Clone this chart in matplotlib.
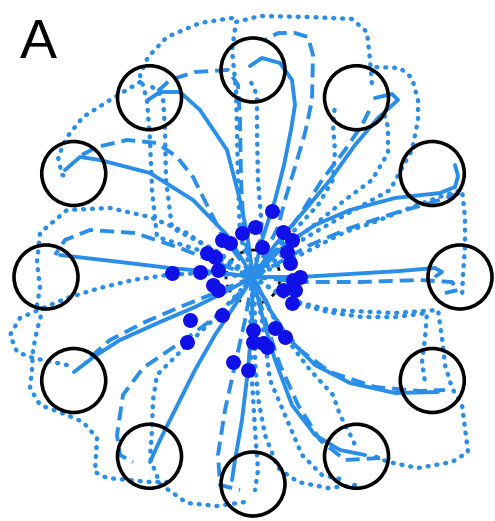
import numpy as np
import matplotlib
matplotlib.use("Agg")
import matplotlib.pyplot as plt
from matplotlib.patches import Circle

# workspace coordinates (screen units, y grows downward)
center = (253, 277)
target_angles = [90, 60, 30, 0, -30, -60, -90, -120, -150, 180, 150, 120]
target_dist = 207
target_r = 32
start_r = 27

# solid trajectories
solid_paths = [
    [(253, 277), (262, 240), (275, 200), (284, 165), (291, 130), (295, 105), (292, 80), (280, 63), (262, 58), (250, 66)],
    [(253, 277), (275, 245), (305, 210), (330, 180), (355, 145), (378, 118), (398, 100), (392, 94), (375, 98)],
    [(253, 277), (285, 245), (315, 225), (350, 210), (395, 198), (440, 193), (455, 187), (458, 176), (455, 165)],
    [(253, 277), (300, 277), (350, 274), (400, 271), (435, 268), (442, 272), (436, 276)],
    [(253, 277), (270, 310), (290, 340), (315, 365), (350, 383), (395, 393), (438, 392)],
    [(253, 277), (262, 315), (275, 360), (292, 405), (315, 435), (340, 450), (365, 455)],
    [(253, 277), (252, 320), (248, 370), (242, 420), (235, 460), (232, 480)],
    [(253, 277), (235, 305), (215, 335), (195, 370), (175, 410), (160, 440), (150, 462)],
    [(253, 277), (225, 292), (195, 307), (160, 322), (120, 340), (95, 356), (74, 372)],
    [(253, 277), (215, 272), (170, 268), (120, 262), (77, 257), (60, 255)],
    [(253, 277), (227, 235), (193, 200), (150, 173), (100, 160), (80, 157), (65, 170)],
    [(253, 277), (247, 233), (240, 200), (227, 150), (200, 110), (180, 92), (160, 92), (148, 100)],
]

# dashed trajectories
dashed_paths = [
    [(253, 277), (278, 227), (285, 200), (295, 167), (305, 133), (312, 100), (313, 55), (308, 37), (295, 33), (278, 33), (265, 40)],
    [(253, 277), (275, 250), (300, 215), (322, 180), (345, 150), (362, 125), (372, 105)],
    [(253, 277), (280, 262), (310, 245), (350, 228), (395, 213), (430, 203), (460, 193)],
    [(253, 277), (300, 282), (360, 282), (420, 280), (452, 282), (458, 290), (445, 293)],
    [(253, 277), (275, 318), (300, 350), (330, 372), (375, 387), (420, 391), (445, 390)],
    [(253, 277), (265, 320), (280, 365), (298, 405), (320, 440), (345, 460), (380, 458)],
    [(253, 277), (245, 320), (235, 365), (225, 410), (218, 455), (220, 485), (240, 490)],
    [(253, 277), (225, 310), (187, 338), (143, 368), (123, 395), (117, 435), (120, 455), (133, 462)],
    [(253, 277), (215, 293), (180, 307), (145, 322), (110, 340), (85, 362)],
    [(253, 277), (215, 262), (180, 248), (135, 233), (90, 230), (65, 240), (55, 255)],
    [(253, 277), (222, 235), (207, 205), (193, 177), (177, 157), (157, 143), (127, 140), (97, 147), (78, 157)],
    [(253, 277), (244, 235), (241, 180), (240, 120), (238, 85), (228, 70), (195, 72), (170, 80), (157, 92)],
]

# dotted trajectories
dotted_paths = [
    [(253, 277), (262, 230), (258, 180), (257, 130), (257, 95), (250, 80)],
    [(253, 277), (240, 235), (238, 180), (237, 130), (236, 90), (232, 50), (236, 22), (260, 16), (310, 17), (352, 19), (367, 32), (370, 60), (372, 85)],
    [(253, 277), (205, 252), (157, 237), (152, 190), (150, 140), (147, 100), (140, 75), (148, 57), (167, 37), (200, 23), (232, 18)],
    [(253, 277), (215, 250), (172, 228), (166, 180), (165, 130), (163, 97), (150, 85)],
    [(140, 82), (110, 100), (83, 117), (67, 137), (58, 157), (62, 175), (70, 177)],
    [(253, 277), (207, 247), (187, 233), (150, 217), (110, 208), (67, 210), (40, 233), (37, 262), (40, 288), (37, 305)],
    [(253, 277), (200, 273), (167, 275), (133, 280), (100, 288), (67, 298), (43, 308), (20, 318), (10, 335), (17, 352), (33, 358), (67, 365)],
    [(43, 308), (37, 330), (33, 350), (32, 370), (30, 388), (40, 405), (67, 415), (83, 422), (97, 438), (95, 472), (107, 478), (150, 482), (173, 482)],
    [(253, 277), (215, 318), (187, 345), (157, 375), (153, 400), (152, 430), (150, 458), (160, 484), (187, 503), (217, 506), (245, 502)],
    [(253, 277), (250, 330), (252, 380), (255, 430), (258, 470), (255, 490)],
    [(253, 277), (255, 320), (255, 362), (258, 398), (265, 435), (278, 468), (298, 482), (328, 488), (355, 485)],
    [(253, 277), (262, 320), (270, 380), (285, 415), (302, 455), (322, 475), (345, 480)],
    [(253, 277), (280, 330), (310, 370), (333, 395), (340, 415), (348, 430), (355, 445)],
    [(253, 277), (280, 295), (302, 305), (328, 312), (362, 317), (395, 317), (427, 313), (425, 338), (422, 362), (425, 382)],
    [(253, 277), (290, 300), (330, 310), (395, 313), (438, 310), (442, 338), (445, 365), (452, 388), (462, 405), (465, 428), (468, 452), (452, 462), (418, 468), (388, 462), (372, 455)],
    [(253, 277), (300, 255), (345, 232), (372, 223), (412, 207), (445, 195), (462, 190), (465, 217), (465, 247), (463, 275), (462, 298)],
    [(253, 277), (285, 245), (308, 230), (345, 200), (372, 180), (388, 153), (388, 127), (383, 110)],
    [(253, 277), (290, 235), (318, 205), (333, 180), (335, 150), (333, 125), (335, 105)],
    [(253, 277), (305, 238), (345, 215), (390, 190), (412, 150), (418, 120), (418, 100), (412, 78), (400, 68), (375, 67)],
]

# end-of-reaction positions (dots)
dot_x = [272, 255, 242, 222, 230, 283, 292, 262, 207, 215, 287, 290, 172, 200, 218, 300, 293,
         213, 218, 283, 295, 292, 222, 190, 187, 253, 275, 285, 253, 263, 267, 233, 248]
dot_y = [211, 227, 233, 240, 243, 232, 240, 247, 253, 257, 252, 263, 273, 272, 270, 277, 280,
         285, 290, 290, 290, 303, 315, 320, 342, 330, 328, 337, 342, 343, 347, 362, 370]

line_col = '#2a8ee8'
dot_col = '#1010e8'

fig = plt.figure(figsize=(4.95, 5.21), dpi=100)
ax = fig.add_axes([0, 0, 1, 1])
ax.set_xlim(0, 495)
ax.set_ylim(521, 0)
ax.axis('off')

for p in dotted_paths:
    p = np.array(p)
    ax.plot(p[:, 0], p[:, 1], color=line_col, lw=3.2, linestyle=(0, (0.2, 1.8)),
            dash_capstyle='round', dash_joinstyle='round', zorder=2)
for p in dashed_paths:
    p = np.array(p)
    ax.plot(p[:, 0], p[:, 1], color=line_col, lw=2.8, linestyle=(0, (3.6, 1.8)),
            dash_joinstyle='round', zorder=3)
for p in solid_paths:
    p = np.array(p)
    ax.plot(p[:, 0], p[:, 1], color=line_col, lw=2.8, solid_joinstyle='round',
            solid_capstyle='round', zorder=4)

ax.add_patch(Circle(center, start_r, fill=False, ec='black', lw=2, linestyle=(0, (3, 2)), zorder=1))
for a in target_angles:
    tx = center[0] + target_dist * np.cos(np.radians(a))
    ty = center[1] - target_dist * np.sin(np.radians(a))
    ax.add_patch(Circle((tx, ty), target_r, fill=False, ec='black', lw=2.6, zorder=6))

ax.scatter(dot_x, dot_y, s=115, color=dot_col, zorder=5, linewidths=0)

ax.text(20, 58, 'A', fontsize=40, family='Liberation Sans', color='black')

fig.savefig('out.png', dpi=100)
